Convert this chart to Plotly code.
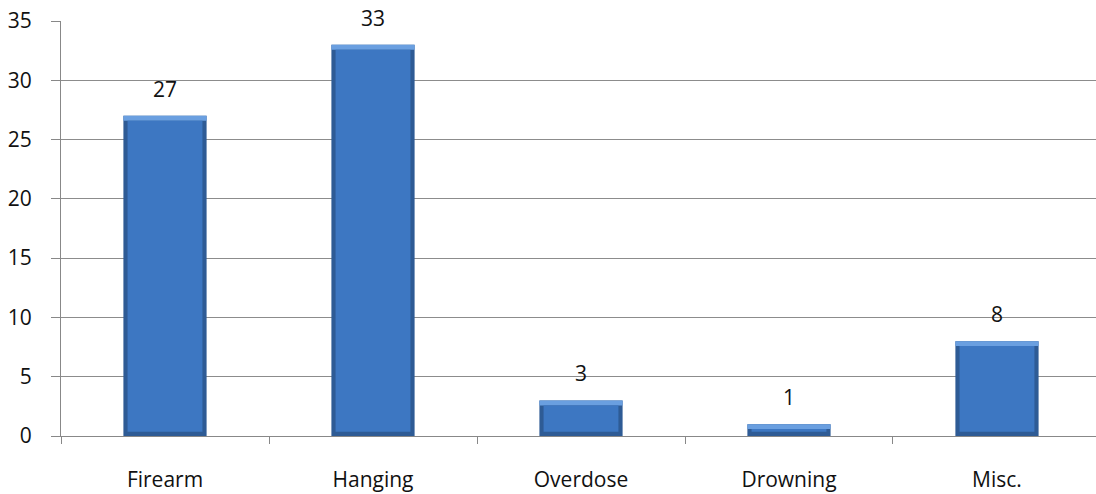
import plotly.graph_objects as go

categories = ["Firearm", "Hanging", "Overdose", "Drowning", "Misc."]
values = [27, 33, 3, 1, 8]
y_ticks = [0, 5, 10, 15, 20, 25, 30, 35]

bevel = 0.36
hl = 0.42

fig = go.Figure()
# outer (dark edge)
fig.add_trace(go.Bar(
    x=categories, y=values, width=0.4,
    marker=dict(color="#2e5b95", line=dict(width=0)),
    hoverinfo="skip",
))
# top highlight
fig.add_trace(go.Bar(
    x=categories, y=[hl] * len(values), base=[v - hl for v in values], width=0.4,
    marker=dict(color="#6a9fe0", line=dict(width=0)), hoverinfo="skip",
))
# inner face
fig.add_trace(go.Bar(
    x=categories, y=[v - bevel - hl for v in values], base=[bevel] * len(values), width=0.36,
    marker=dict(color="#3d77c2", line=dict(width=0)), hoverinfo="skip",
))

for c, v in zip(categories, values):
    fig.add_annotation(
        x=c, y=v, text=str(v), showarrow=False, yanchor="bottom",
        yshift=11, font=dict(family="Open Sans", size=21, color="#111"),
    )

fig.update_layout(
    width=1096, height=494,
    margin=dict(l=61, r=0, t=21, b=58, autoexpand=False),
    paper_bgcolor="white", plot_bgcolor="white",
    barmode="overlay", showlegend=False,
    font=dict(family="Open Sans", size=21, color="#111"),
    xaxis=dict(
        range=[-0.5, 4.476], tickson="boundaries", ticks="outside", ticklen=7,
        tickcolor="#888", showline=True, linecolor="#888", linewidth=1,
        showgrid=False, ticklabelstandoff=25, automargin=False,
        tickfont=dict(family="Open Sans", size=21, color="#111"),
    ),
    yaxis=dict(
        range=[0, 35], tickvals=y_ticks, ticks="outside", ticklen=9,
        tickcolor="#888", showline=True, linecolor="#888", linewidth=1,
        showgrid=True, gridcolor="#8c8c8c", gridwidth=1, zeroline=False,
        ticklabelstandoff=15, automargin=False,
        tickfont=dict(family="Open Sans", size=21, color="#111"),
    ),
)

fig.write_html(
    "out.html",
    config={"displayModeBar": False},
    post_script="document.body.style.margin='0';document.body.style.overflow='hidden';",
)
